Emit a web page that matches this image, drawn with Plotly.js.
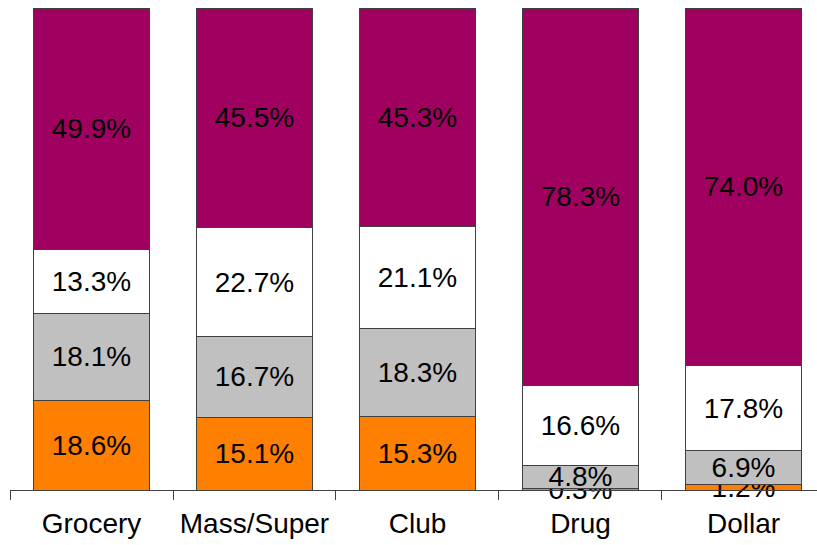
<!DOCTYPE html>
<html>
<head>
<meta charset="utf-8">
<script src="https://cdn.plot.ly/plotly-3.0.1.min.js"></script>
<style>
  html, body { margin: 0; padding: 0; background: #ffffff; }
  #chart { width: 817px; height: 545px; }
</style>
</head>
<body>
<div id="chart"></div>
<script>
// Channel share by segment (%), stacked bottom to top
const channels = ["Grocery", "Mass/Super", "Club", "Drug", "Dollar"];
const orangeShare = [18.6, 15.1, 15.3, 0.3, 1.2];
const grayShare   = [18.1, 16.7, 18.3, 4.8, 6.9];
const whiteShare  = [13.3, 22.7, 21.1, 16.6, 17.8];
const purpleShare = [49.9, 45.5, 45.3, 78.3, 74.0];

const FONT = "Liberation Sans, Arial, sans-serif";

function segment(values, fill) {
  return {
    type: "bar",
    x: channels,
    y: values,
    text: values.map(v => v.toFixed(1) + "%"),
    textposition: "inside",
    insidetextanchor: "middle",
    textangle: 0,
    constraintext: "none",
    cliponaxis: false,
    textfont: { family: FONT, size: 28, color: "#000000" },
    marker: { color: fill, line: { color: "#404040", width: 1 } },
    hoverinfo: "skip",
    showlegend: false
  };
}

const data = [
  segment(orangeShare, "rgb(255,128,0)"),
  segment(grayShare, "rgb(192,192,192)"),
  segment(whiteShare, "rgb(255,255,255)"),
  segment(purpleShare, "rgb(160,0,96)")
];

const layout = {
  width: 817,
  height: 545,
  margin: { l: 10, r: 0, t: 8, b: 55 },
  paper_bgcolor: "#ffffff",
  plot_bgcolor: "#ffffff",
  barmode: "stack",
  bargap: 0.29,
  showlegend: false,
  font: { family: FONT, size: 28, color: "#000000" },
  xaxis: {
    type: "category",
    range: [-0.5, 4.451],
    tickson: "boundaries",
    ticks: "outside",
    ticklen: 9,
    tickwidth: 1,
    tickcolor: "#404040",
    ticklabelstandoff: 8,
    showline: true,
    linecolor: "#404040",
    linewidth: 1,
    showgrid: false,
    zeroline: false,
    tickfont: { family: FONT, size: 28, color: "#000000" },
    fixedrange: true
  },
  yaxis: {
    range: [0, 100],
    visible: false,
    showgrid: false,
    zeroline: false,
    fixedrange: true
  }
};

Plotly.newPlot("chart", data, layout, { displayModeBar: false, staticPlot: true });
</script>
</body>
</html>
